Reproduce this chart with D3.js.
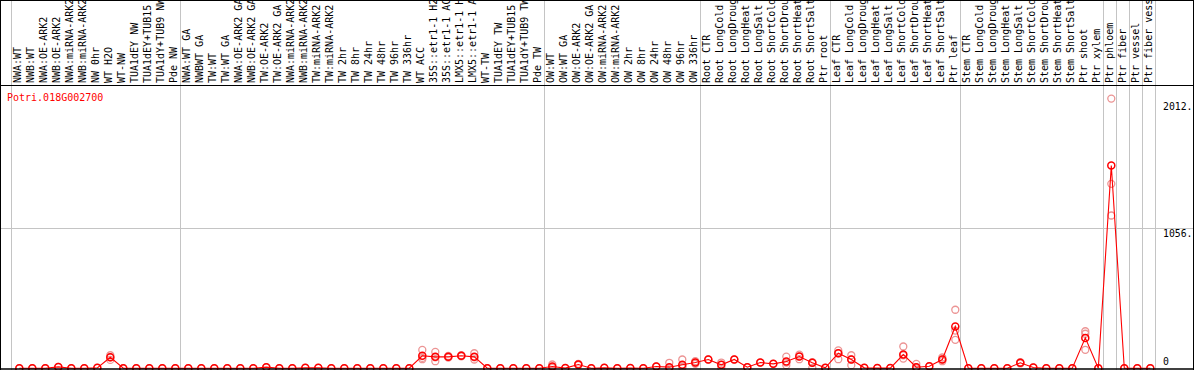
<!DOCTYPE html>
<html><head><meta charset="utf-8">
<script src="https://cdn.jsdelivr.net/npm/d3@7"></script>
<style>
html,body{margin:0;padding:0;background:#fff;}
svg{display:block;}
text{font-family:"DejaVu Sans Mono",monospace;}
</style></head>
<body>
<svg id="chart" width="1194" height="370"></svg>
<script>
const geneName = "Potri.018G002700";

const categories = [
  "NWA:WT","NWB:WT","NWA:OE-ARK2","NWB:OE-ARK2","NWA:miRNA-ARK2","NWB:miRNA-ARK2","NW 0hr","WT H2O","WT-NW","TUA1dEY NW","TUA1dEY+TUB15 NW","TUA1dY+TUB9 NW","Pde NW",
  "NWA:WT GA","NWBWT GA","TW:WT","TW:WT GA","NWA:OE-ARK2 GA","NWB:OE-ARK2 GA","TW:OE-ARK2","TW:OE-ARK2 GA","NWA:miRNA-ARK2","NWB:miRNA-ARK2","TW:miRNA-ARK2","TW:miRNA-ARK2","TW 2hr","TW 8hr","TW 24hr","TW 48hr","TW 96hr","TW 336hr","WT ACC","35S::etr1-1 H2O","35S::etr1-1 ACC","LMX5::etr1-1 H2O","LMX5::etr1-1 ACC","WT-TW","TUA1dEY TW","TUA1dEY+TUB15 TW","TUA1dY+TUB9 TW","Pde TW",
  "OW:WT","OW:WT GA","OW:OE-ARK2","OW:OE-ARK2 GA","OW:miRNA-ARK2","OW:miRNA-ARK2","OW 2hr","OW 8hr","OW 24hr","OW 48hr","OW 96hr","OW 336hr",
  "Root CTR","Root LongCold","Root LongDrought","Root LongHeat","Root LongSalt","Root ShortCold","Root ShortDrought","Root ShortHeat","Root ShortSalt","Ptr root",
  "Leaf CTR","Leaf LongCold","Leaf LongDrought","Leaf LongHeat","Leaf LongSalt","Leaf ShortCold","Leaf ShortDrought","Leaf ShortHeat","Leaf ShortSalt","Ptr leaf",
  "Stem CTR","Stem LongCold","Stem LongDrought","Stem LongHeat","Stem LongSalt","Stem ShortCold","Stem ShortDrought","Stem ShortHeat","Stem ShortSalt","Ptr shoot","Ptr xylem",
  "Ptr phloem","Ptr fiber","Ptr vessel","Ptr fiber vessel"
];

// number of samples in each separated group
const groupSizes = [13, 28, 12, 10, 10, 11, 1, 1, 1, 1];

// mean expression per sample
const means = [
  2,2,2,12,2,2,5,85,2,2,2,2,2,
  2,2,2,2,2,2,10,2,2,5,5,2,2,2,2,2,2,2,96,88,88,96,88,2,2,2,2,2,
  15,3,30,2,5,2,3,2,15,10,28,45,
  68,28,68,10,45,35,53,90,43,5,
  115,68,5,3,3,105,10,17,68,317,
  2,2,2,2,43,8,2,2,2,231,2,
  1531,2,2,2
];

// individual replicate values per sample
const replicates = [
  [2],[2],[2],[12],[2],[2],[5],[100,85,65],[2],[2],[2],[2],[2],
  [2],[2],[2],[2],[2],[2],[10],[2],[2],[5],[5],[2],[2],[2],[2],[2],[2],[2],
  [140,80,70],[125,85,55],[95,88,82],[100,95,92],[115,85,68],[2],[2],[2],[2],[2],
  [30,10,5],[3],[35,30,25],[2],[5],[2],[3],[2],[15],[43,5,2],[68,15,5],[55,45,35],
  [68],[45,28,5],[68],[10],[45],[35],[90,45,25],[105,90,70],[48,43,5],[5],
  [136,115,70],[100,68,25],[5],[3],[3],[166,100,75],[35,10,2],[17],[83,68,55],[443,286,216],
  [2],[2],[2],[2],[48,43,38],[8],[2],[2],[2],[281,262,141],[2],
  [2036,1393,1154],[2],[2],[2]
];

const yTickValues = [1056, 2012];
const yGridValues = [1056];

const svg = d3.select("#chart");
const W = 1194, H = 370;
const labelBottom = 85.5;

const idx = d3.range(categories.length);
const xBand = d3.scaleBand().domain(idx).range([11, 1155]).paddingInner(0).paddingOuter(0);
const px = i => xBand(i) + 8.3;
const y = d3.scaleLinear().domain([0, 1056]).range([368.5, 228.5]);

// group boundary lines
let starts = [0];
groupSizes.forEach(s => starts.push(starts[starts.length-1] + s));
const boundaries = starts.map(s => s < categories.length ? xBand(s) : xBand(categories.length-1) + xBand.bandwidth());

svg.append("g").selectAll("line").data(boundaries).join("line")
  .attr("x1", d => Math.round(d) + 0.5).attr("x2", d => Math.round(d) + 0.5)
  .attr("y1", 0).attr("y2", H)
  .attr("stroke", "#c4c4c4").attr("stroke-width", 1);

// horizontal grid
svg.append("g").selectAll("line").data(yGridValues).join("line")
  .attr("x1", 0).attr("x2", W)
  .attr("y1", d => y(d)).attr("y2", d => y(d))
  .attr("stroke", "#c4c4c4").attr("stroke-width", 1);

// frame
svg.append("line").attr("x1",0).attr("x2",W).attr("y1",0.5).attr("y2",0.5).attr("stroke","#000");
svg.append("line").attr("x1",0).attr("x2",W).attr("y1",labelBottom).attr("y2",labelBottom).attr("stroke","#000");
svg.append("line").attr("x1",0.5).attr("x2",0.5).attr("y1",0).attr("y2",H).attr("stroke","#000");
svg.append("line").attr("x1",W-0.5).attr("x2",W-0.5).attr("y1",0).attr("y2",H).attr("stroke","#000");

// category labels (rotated, clipped at the top like the reference)
svg.append("clipPath").attr("id","labclip").append("rect")
  .attr("x",0).attr("y",1).attr("width",W).attr("height",labelBottom-1.5);
svg.append("g").attr("clip-path","url(#labclip)")
  .selectAll("text").data(idx).join("text")
  .attr("transform", i => `translate(${px(i)+2},83) rotate(-90)`)
  .attr("font-size", "10px")
  .attr("fill", "#000")
  .text(i => categories[i]);

// y labels
svg.append("g").selectAll("text").data(yTickValues).join("text")
  .attr("x", 1163).attr("y", d => y(d) + 8)
  .attr("font-size", "9.8px").attr("fill","#000")
  .text(d => d + ".");
svg.append("text").attr("x", 1163).attr("y", y(0) - 3.5)
  .attr("font-size","9.8px").attr("fill","#000").text("0");

// title
svg.append("text").attr("x", 7).attr("y", 101)
  .attr("font-size","10px").attr("fill","#ff0000").text(geneName);

// replicates
const repData = [];
replicates.forEach((r, i) => r.forEach(v => repData.push({i, v})));
svg.append("g").selectAll("circle").data(repData).join("circle")
  .attr("cx", d => px(d.i)).attr("cy", d => y(d.v)).attr("r", 3.5)
  .attr("fill","none").attr("stroke","#ec9494").attr("stroke-width",1.3);

// mean line
const line = d3.line().x(i => px(i)).y(i => y(means[i]));
svg.append("path").datum(idx).attr("d", line)
  .attr("fill","none").attr("stroke","#ff0000").attr("stroke-width",1.1);

// mean circles
svg.append("g").selectAll("circle").data(idx).join("circle")
  .attr("cx", i => px(i)).attr("cy", i => y(means[i])).attr("r", 3.5)
  .attr("fill","none").attr("stroke","#ff0000").attr("stroke-width",1.5);

// baseline
svg.append("line").attr("x1",0).attr("x2",W).attr("y1",369).attr("y2",369).attr("stroke","#000").attr("stroke-width",1.5);
</script>
</body></html>
